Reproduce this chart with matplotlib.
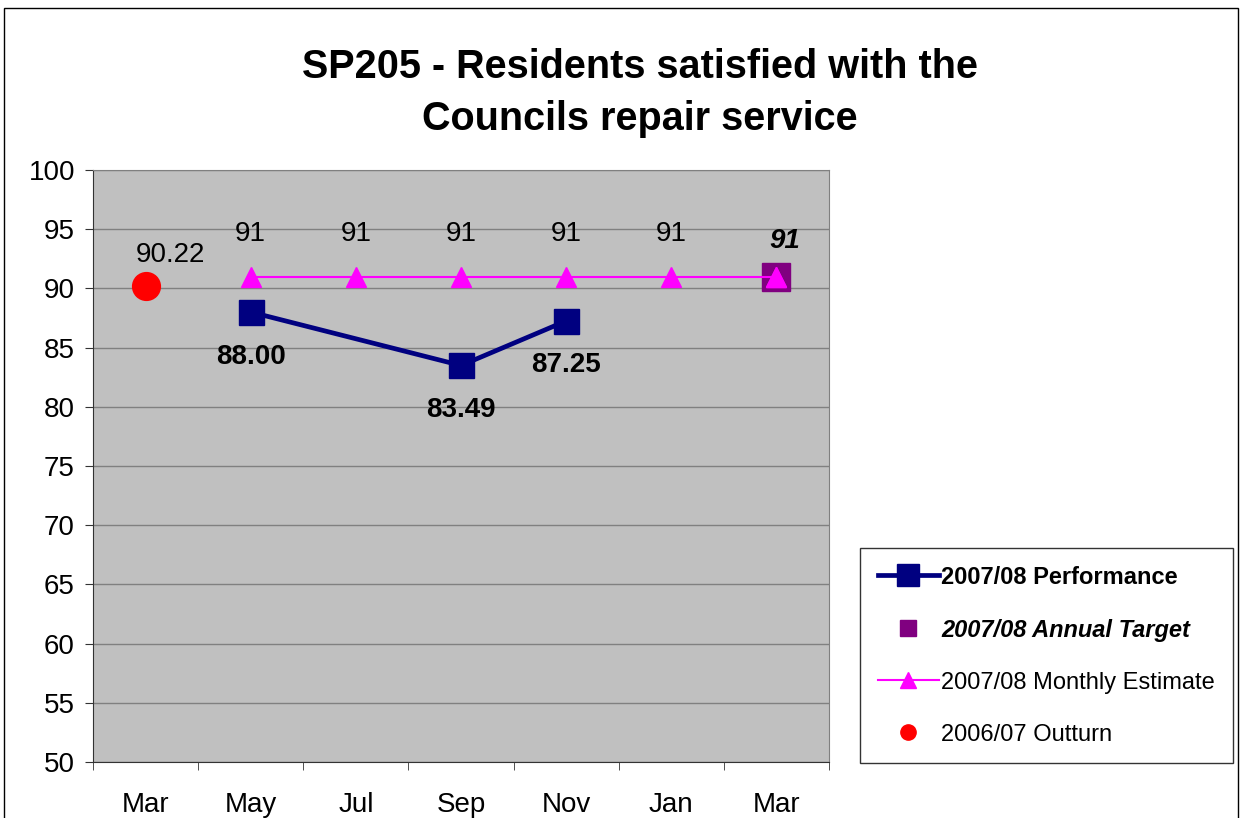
import matplotlib
matplotlib.use("Agg")
import matplotlib.pyplot as plt
from matplotlib.patches import Rectangle
from matplotlib.lines import Line2D
import numpy as np

plt.rcParams['font.family'] = ['Liberation Sans', 'DejaVu Sans']

categories = ["Mar", "May", "Jul", "Sep", "Nov", "Jan", "Mar"]
perf_idx = [1, 3, 4]
perf_vals = [88.00, 83.49, 87.25]
perf_labels = ["88.00", "83.49", "87.25"]
target_idx = [6]
target_vals = [91]
estimate_idx = [1, 2, 3, 4, 5, 6]
estimate_vals = [91, 91, 91, 91, 91, 91]
outturn_idx = [0]
outturn_vals = [90.22]
yticks = [50, 55, 60, 65, 70, 75, 80, 85, 90, 95, 100]

NAVY, PURPLE, MAGENTA, RED = "#000080", "#800080", "#FF00FF", "#FF0000"

fig = plt.figure(figsize=(12.42, 8.18), dpi=100)
fig.patch.set_facecolor("white")
fig.add_artist(Rectangle((4/1242, -0.1), (1238-4)/1242, (818-8)/818 + 0.1,
                         transform=fig.transFigure, fill=False, edgecolor="black", lw=1.0))

ax = fig.add_axes([93/1242, (818-762)/818, 736/1242, 592/818])
ax.set_facecolor("#C0C0C0")
ax.set_xlim(-0.5, len(categories) - 0.5)
ax.set_ylim(50, 100)
ax.set_yticks(yticks)
ax.yaxis.grid(True, color="#808080", lw=1.0)
ax.set_axisbelow(True)
ax.set_xticks(np.arange(len(categories)))
ax.set_xticklabels(categories, fontsize=20)
ax.set_xticks(np.arange(len(categories) + 1) - 0.5, minor=True)
ax.tick_params(axis="x", which="major", length=0, pad=21.5)
ax.tick_params(axis="x", which="minor", length=6, color="#333333")
ax.tick_params(axis="y", length=6, labelsize=20, color="#333333", pad=7)
for s in ["top", "right"]:
    ax.spines[s].set_color("#808080")
for s in ["left", "bottom"]:
    ax.spines[s].set_color("#333333")

ax.plot(estimate_idx, estimate_vals, color=MAGENTA, lw=1.5, marker="^",
        ms=15, mec=MAGENTA, mfc=MAGENTA, zorder=3)
ax.plot(perf_idx, perf_vals, color=NAVY, lw=3.4, marker="s", ms=18,
        mfc=NAVY, mec=NAVY, zorder=4)
ax.plot(target_idx, target_vals, ls="none", marker="s", ms=19.5, mfc=PURPLE,
        mec=PURPLE, zorder=2)
ax.plot(outturn_idx, outturn_vals, ls="none", marker="o", ms=20, mfc=RED,
        mec=RED, zorder=3)
ax.plot(estimate_idx[-1:], estimate_vals[-1:], ls="none", marker="^", ms=15,
        mfc=MAGENTA, mec=MAGENTA, zorder=5)

for x, v in zip(estimate_idx[:-1], estimate_vals[:-1]):
    ax.annotate(f"{v}", (x, v), xytext=(0, 31), textcoords="offset points",
                ha="center", va="center", fontsize=20)
for x, v in zip(target_idx, target_vals):
    ax.annotate(f"{v}", (x, v), xytext=(6, 25.5), textcoords="offset points",
                ha="center", va="center", fontsize=20, fontweight="bold", style="italic")
for x, v in zip(outturn_idx, outturn_vals):
    ax.annotate(f"{v:.2f}", (x, v), xytext=(18, 22.5), textcoords="offset points",
                ha="center", va="center", fontsize=20)
for x, v, lab in zip(perf_idx, perf_vals, perf_labels):
    ax.annotate(lab, (x, v), xytext=(0, -32), textcoords="offset points",
                ha="center", va="center", fontsize=20, fontweight="bold")

fig.text(640/1242, 1 - 93/818, "SP205 - Residents satisfied with the\nCouncils repair service",
         ha="center", va="center", fontsize=28.5, fontweight="bold", linespacing=1.5)

handles = [
    Line2D([], [], color=NAVY, lw=3.4, marker="s", ms=16, mfc=NAVY, mec=NAVY),
    Line2D([], [], ls="none", marker="s", ms=11, mfc=PURPLE, mec=PURPLE),
    Line2D([], [], color=MAGENTA, lw=1.5, marker="^", ms=12, mfc=MAGENTA, mec=MAGENTA),
    Line2D([], [], ls="none", marker="o", ms=11, mfc=RED, mec=RED),
]
labels = ["2007/08 Performance", "2007/08 Annual Target",
          "2007/08 Monthly Estimate", "2006/07 Outturn"]
leg = fig.legend(handles, labels,
                 loc="upper left", bbox_to_anchor=(860/1242, 1 - 548/818),
                 fontsize=17, frameon=True, fancybox=False, edgecolor="black",
                 borderpad=0.75, labelspacing=1.27, handlelength=2.6, handletextpad=0.1,
                 borderaxespad=0)
leg.get_frame().set_linewidth(1.0)
texts = leg.get_texts()
texts[0].set_fontweight("bold")
texts[1].set_fontweight("bold")
texts[1].set_style("italic")

fig.savefig("out.png", dpi=100)
